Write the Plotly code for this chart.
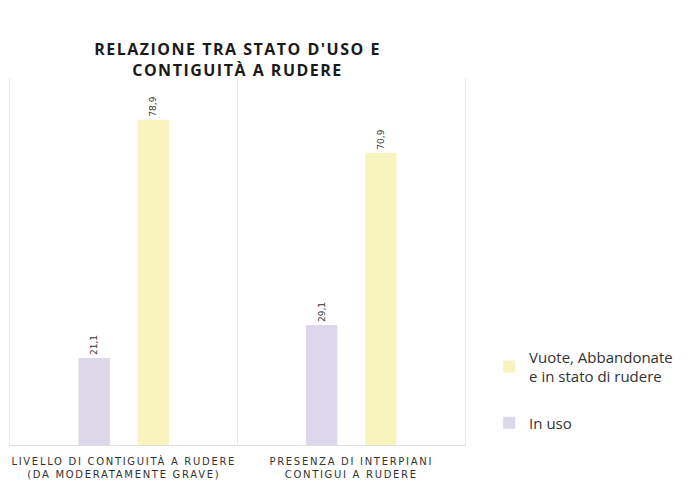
import plotly.graph_objects as go

categories = ["LIVELLO DI CONTIGUITÀ A RUDERE<br>(DA MODERATAMENTE GRAVE)",
              "PRESENZA DI INTERPIANI<br>CONTIGUI A RUDERE"]
in_uso = [21.1, 29.1]
vuote = [78.9, 70.9]
series_names = ["In uso", "Vuote, Abbandonate<br>e in stato di rudere"]
colors = ["#dcd7ea", "#f8f4c0"]
legend_ranks = [2, 1]

fig = go.Figure()
for i, (name, vals, col, rank) in enumerate(zip(series_names, [in_uso, vuote], colors, legend_ranks)):
    fig.add_trace(go.Bar(
        x=categories, y=vals, name=name, legendgroup=f"g{i}", legendrank=rank,
        marker=dict(color=col, line=dict(width=0)),
        text=vals, texttemplate="%{y:.1f}", textposition="outside", textangle=-90,
        constraintext="none", cliponaxis=False,
        textfont=dict(size=9, color="#333333", family="DejaVu Sans"),
    ))

fig.update_layout(
    width=688, height=481,
    paper_bgcolor="white", plot_bgcolor="white",
    separators=",.",
    margin=dict(l=10, r=223, t=78, b=36, autoexpand=False),
    barmode="group", bargap=0.48, bargroupgap=0.47,
    title=dict(text="RELAZIONE TRA STATO D'USO E<br>CONTIGUITÀ A RUDERE",
               x=0.5, xref="paper", xanchor="center", yref="container",
               y=1 - 55 / 481, yanchor="top",
               font=dict(size=16, color="#1a1a1a", family="Open Sans", weight="bold")),
    showlegend=True,
    legend=dict(x=1.053, xanchor="left", y=0.285, yanchor="top",
                traceorder="grouped",
                font=dict(size=15, color="#333333", family="Open Sans"),
                tracegroupgap=24, itemwidth=30, bgcolor="rgba(0,0,0,0)"),
    xaxis=dict(tickson="boundaries", showgrid=True, gridcolor="#e8e8e8", gridwidth=1,
               showline=True, linecolor="#e0e0e0", ticks="", automargin=False,
               ticklabelstandoff=7,
               tickfont=dict(size=10, color="#333333", family="DejaVu Sans")),
    yaxis=dict(range=[0, 89], showticklabels=False, showgrid=False, zeroline=False,
               showline=True, mirror=True, linecolor="#e8e8e8", ticks="", automargin=False),
)

css = ("<style>body{margin:0}.xtick text{letter-spacing:1.7px}"
       ".gtitle{letter-spacing:1.5px}</style>")
fig.write_html("out.html", config={"displayModeBar": False},
               post_script="document.head.insertAdjacentHTML('beforeend', '" + css + "');")
